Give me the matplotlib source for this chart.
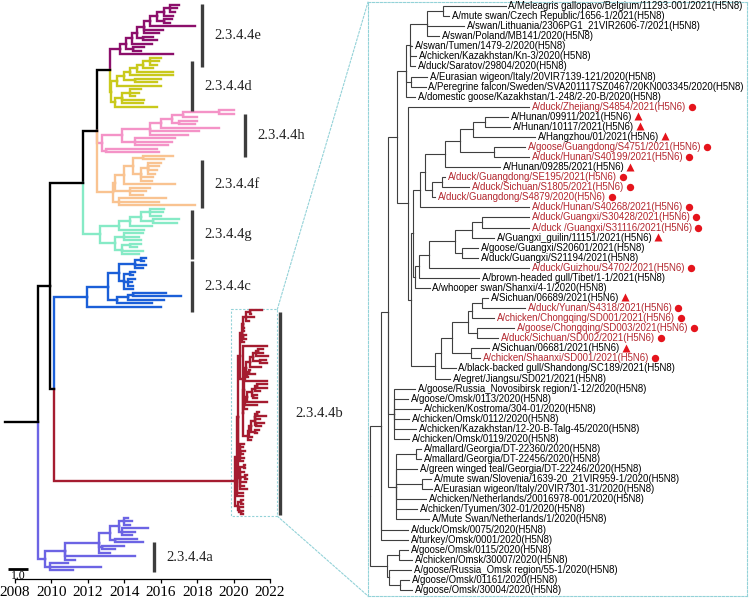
import matplotlib
matplotlib.use("Agg")
import matplotlib.pyplot as plt
from matplotlib.collections import LineCollection
from matplotlib.patches import Rectangle, ConnectionPatch

plt.rcParams["font.family"] = ["Liberation Serif", "DejaVu Serif"]

# ---------------- data ----------------
# time-scaled clades: node = (date, [children]), leaf = sampling date
clade_keys = ["e", "d", "h", "f", "g", "c", "b", "a"]
clade_labels = ["2.3.4.4e", "2.3.4.4d", "2.3.4.4h", "2.3.4.4f",
                "2.3.4.4g", "2.3.4.4c", "2.3.4.4b", "2.3.4.4a"]
clade_colors = ["#8c0f6b", "#c9c91c", "#f493c7", "#f9c391",
                "#86eac6", "#1b5fd8", "#a51c30", "#6c64e4"]

tree_e = (2013.75, [
    (2014.1, [
        (2014.4, [
            (2014.7, [
                (2015.1, [
                    (2015.4, [
                        (2015.8, [
                            (2016.2, [(2016.5, [2017.0, 2016.9, 2016.8]), 2016.7]),
                            (2016.2, [2016.6, 2016.5])]),
                        2017.9]),
                    2016.1, 2015.9]),
                (2015.0, [2015.6, 2015.8])]),
            2015.5]),
        (2014.5, [2015.1, 2014.9])]),
    2016.7])

tree_d = (2013.25, [
    (2013.6, [
        (2014.0, [
            (2014.3, [
                (2014.7, [
                    (2015.0, [(2015.4, [2016.0, 2015.9, 2015.8]), 2015.6]),
                    2016.7]),
                2016.7]),
            (2014.6, [2016.0, 2015.8])]),
        2016.0]),
    (2013.5, [
        (2013.9, [(2014.3, [2014.9, 2014.8, 2014.6]), 2015.1, 2015.0]),
        2015.8])])

tree_h = (2012.8, [
    (2013.9, [
        (2015.4, [
            (2016.0, [
                (2016.6, [
                    (2017.2, [(2019.2, [2020.0, 2020.0]), 2018.0]),
                    (2017.0, [2018.0, 2017.9])]),
                2019.2]),
            2018.1, 2017.5]),
        (2014.6, [2016.8, 2016.6, 2016.4])]),
    (2013.0, [2015.8, 2015.9])])

tree_f = (2013.4, [
    (2013.5, [
        (2014.0, [
            (2014.5, [
                (2015.0, [2016.7, 2016.2]),
                (2014.9, [(2015.3, [2016.0, 2015.9, 2015.8, 2015.7]), 2015.6, 2015.5])]),
            2016.8]),
        (2014.3, [2015.4, 2015.2, 2015.0])]),
    (2013.7, [2016.3, 2015.9, 2017.9])])

tree_g = (2012.65, [
    (2013.7, [
        (2014.3, [
            (2014.9, [(2015.4, [2016.2, 2016.1, 2016.0]), (2015.6, [2017.0, 2016.9])]),
            2015.5]),
        2015.1]),
    (2013.5, [
        (2014.0, [2015.0, 2014.8, 2014.9]),
        (2013.9, [(2014.3, [2014.9, 2014.7]), 2015.0, 2014.8])])])

tree_c = (2011.95, [
    (2013.1, [
        (2013.7, [
            (2014.6, [(2014.9, [2015.2, 2015.1]), 2015.2, 2015.0]),
            (2014.0, [(2014.3, [2014.6, 2014.5]), (2014.2, [2014.6, 2014.4, 2014.5]), 2014.5])]),
        (2013.6, [
            (2014.2, [(2014.5, [2016.3, 2017.1]), 2016.2]),
            2015.5])]),
    2016.0])

tree_a = (2009.65, [
    (2010.75, [
        (2012.6, [
            (2013.2, [
                (2013.7, [(2014.0, [2014.2, 2014.4, 2014.3]), (2013.9, [2015.3, 2014.6, 2014.4])]),
                (2013.5, [2014.7, 2015.0])]),
            (2012.8, [2014.0, 2013.5]),
            2013.2]),
        2014.6, 2011.3]),
    (2009.9, [2010.9, 2012.7, 2011.2])])

# clade 2.3.4.4b: divergence from its root, shown in both panels
tree_b = (0, [
    (11, [
        (18, [
            (27, [
                (36, [
                    (40, [(57, [(73, [136, 79]), 94, 69]), 42, 46, 45]),
                    (41, [57, 56]),
                    45]),
                (38, [
                    159,
                    (41, [
                        (43, [
                            (50, [
                                (55, [
                                    (75, [(90, [(103, [(115, [138, 140]), 165]), (124, [155, 159])]), 130]),
                                    (62, [(72, [75, 99]), 65])]),
                                159]),
                            (45, [(49, [(59, [(85, [(102, [(112, [159, 159]), 124]), (92, [108, 108])]), 159]), 109]), 60])]),
                        (65, [(71, [(82, [(98, [(102, [(112, [118, 155]), 124]), (107, [144, 128])]),
                                          (101, [119, 110])]), 86]), 80])])])]),
            (24, [45, 38, 51, 39, 46, 39]),
            (26, [(46, [51, 51]), 47, (52, [61, 62]), 56, 47, 59])]),
        38, 38]),
    (17, [(29, [38, 42]), (19, [41, (30, [39, 42])])])])

b_root_year = 2020.07
b_years_per_unit = 0.0111

# backbone: strings refer to clades
backbone = (2009.26, [
    (2009.92, [
        (2011.73, [(2012.5, [(2013.22, ["e", "d"]), "h", "f"]), "g"]),
        (2010.15, ["c", "b"])]),
    "a"])
root_stem_start = 2007.45

b_labels = [
    "A/Meleagris gallopavo/Belgium/11293-001/2021(H5N8)",
    "A/mute swan/Czech Republic/1656-1/2021(H5N8)",
    "A/swan/Lithuania/2306PG1_21VIR2606-7/2021(H5N8)",
    "A/swan/Poland/MB141/2020(H5N8)",
    "A/swan/Tumen/1479-2/2020(H5N8)",
    "A/chicken/Kazakhstan/Kn-3/2020(H5N8)",
    "A/duck/Saratov/29804/2020(H5N8)",
    "A/Eurasian wigeon/Italy/20VIR7139-121/2020(H5N8)",
    "A/Peregrine falcon/Sweden/SVA201117SZ0467/20KN003345/2020(H5N8)",
    "A/domestic goose/Kazakhstan/1-248/2-20-B/2020(H5N8)",
    "A/duck/Zhejiang/S4854/2021(H5N6)",
    "A/Hunan/09911/2021(H5N6)",
    "A/Hunan/10117/2021(H5N6)",
    "A/Hangzhou/01/2021(H5N6)",
    "A/goose/Guangdong/S4751/2021(H5N6)",
    "A/duck/Hunan/S40199/2021(H5N6)",
    "A/Hunan/09285/2021(H5N6)",
    "A/duck/Guangdong/SE195/2021(H5N6)",
    "A/duck/Sichuan/S1805/2021(H5N6)",
    "A/duck/Guangdong/S4879/2020(H5N6)",
    "A/duck/Hunan/S40268/2021(H5N6)",
    "A/duck/Guangxi/S30428/2021(H5N6)",
    "A/duck /Guangxi/S31116/2021(H5N6)",
    "A/Guangxi_guilin/11151/2021(H5N6)",
    "A/goose/Guangxi/S20601/2021(H5N8)",
    "A/duck/Guangxi/S21194/2021(H5N8)",
    "A/duck/Guizhou/S4702/2021(H5N6)",
    "A/brown-headed gull/Tibet/1-1/2021(H5N8)",
    "A/whooper swan/Shanxi/4-1/2020(H5N8)",
    "A/Sichuan/06689/2021(H5N6)",
    "A/duck/Yunan/S4318/2021(H5N6)",
    "A/chicken/Chongqing/SD001/2021(H5N6)",
    "A/goose/Chongqing/SD003/2021(H5N6)",
    "A/duck/Sichuan/SD002/2021(H5N6)",
    "A/Sichuan/06681/2021(H5N6)",
    "A/chicken/Shaanxi/SD001/2021(H5N6)",
    "A/black-backed gull/Shandong/SC189/2021(H5N8)",
    "A/egret/Jiangsu/SD021/2021(H5N8)",
    "A/goose/Russia_Novosibirsk region/1-12/2020(H5N8)",
    "A/goose/Omsk/0113/2020(H5N8)",
    "A/chicken/Kostroma/304-01/2020(H5N8)",
    "A/chicken/Omsk/0112/2020(H5N8)",
    "A/chicken/Kazakhstan/12-20-B-Talg-45/2020(H5N8)",
    "A/chicken/Omsk/0119/2020(H5N8)",
    "A/mallard/Georgia/DT-22360/2020(H5N8)",
    "A/mallard/Georgia/DT-22456/2020(H5N8)",
    "A/green winged teal/Georgia/DT-22246/2020(H5N8)",
    "A/mute swan/Slovenia/1639-20_21VIR959-1/2020(H5N8)",
    "A/Eurasian wigeon/Italy/20VIR7301-31/2020(H5N8)",
    "A/chicken/Netherlands/20016978-001/2020(H5N8)",
    "A/chicken/Tyumen/302-01/2020(H5N8)",
    "A/Mute Swan/Netherlands/1/2020(H5N8)",
    "A/duck/Omsk/0075/2020(H5N8)",
    "A/turkey/Omsk/0001/2020(H5N8)",
    "A/goose/Omsk/0115/2020(H5N8)",
    "A/chicken/Omsk/30007/2020(H5N8)",
    "A/goose/Russia_Omsk region/55-1/2020(H5N8)",
    "A/goose/Omsk/01161/2020(H5N8)",
    "A/goose/Omsk/30004/2020(H5N8)",
]
# "o" = H5N6 from poultry (this study), "^" = human H5N6, "" = other
b_marks = ([""] * 10 + ["o", "^", "^", "^", "o", "o", "^", "o", "o", "o", "o", "o", "o", "^",
                         "", "", "o", "", "", "^", "o", "o", "o", "o", "^", "o"] + [""] * 23)

clade_trees = dict(zip(clade_keys, [tree_e, tree_d, tree_h, tree_f, tree_g, tree_c, tree_b, tree_a]))


def build(node, color, to_x, leaf_ys, paths, tips):
    """lay the tree out: returns (x, y, colour) of node, collects elbow paths"""
    if isinstance(node, str):
        color = clade_colors[clade_keys.index(node)]
        if node == "b":
            to_x = lambda d: b_root_year + d * b_years_per_unit
        node = clade_trees[node]
    if isinstance(node, tuple):
        x = to_x(node[0])
        kids = [build(k, color, to_x, leaf_ys, paths, tips) for k in node[1]]
        y = (kids[0][1] + kids[-1][1]) / 2
        for kx, ky, kc in kids:
            paths.append(([(x, y), (x, ky), (kx, ky)], kc))
        return x, y, color
    x = to_x(node)
    y = next(leaf_ys)
    tips.append((x, y))
    return x, y, color


W, H = 750, 598
PX_YR = 255 / 14
fig = plt.figure(figsize=(W / 100, H / 100), dpi=100)

# ---------- left: time tree ----------
ax1 = fig.add_axes([0, (H - 579) / H, 418 / W, 579 / H])
paths, tips = [], []
rx, ry, _ = build(backbone, "black", lambda t: t, iter(range(1000)), paths, tips)
paths.append(([(root_stem_start, ry), (rx, ry)], "black"))
n_left = len(tips)
ax1.add_collection(LineCollection([p for p, c in paths], colors=[c for p, c in paths],
                                  linewidths=1.7, capstyle="projecting", joinstyle="miter"))
ax1.set_xlim(2008 - 15 / PX_YR, 2008 + (418 - 15) / PX_YR)
ax1.set_ylim(n_left + 1.5, -1.42)

# leaf index range of every clade (leaves are laid out in clade order)
sizes = []
for k in clade_keys:
    t = []
    build(k, "k", lambda v: v, iter(range(1000)), [], t)
    sizes.append(len(t))
starts = [sum(sizes[:i]) for i in range(len(sizes))]

bars = {"e": (2018.27, -0.2, 17.7), "d": (2017.72, 16, 30.2), "h": (2020.63, 31, 43.3),
        "f": (2018.27, 44.2, 57.8), "g": (2017.72, 58.4, 72.4), "c": (2017.72, 72.9, 87.5),
        "b": (2022.55, 87.5, 145.3), "a": (2015.63, 153, 161.5)}
for k, lab in zip(clade_keys, clade_labels):
    bx, y0, y1 = bars[k]
    ax1.plot([bx, bx], [y0, y1], color="#3d3d3d", lw=2.4, solid_capstyle="butt")
    ax1.annotate(lab, (bx, (y0 + y1) / 2), xytext=(11 if k == "b" else 9, 0),
                 textcoords="offset points", va="center", ha="left", fontsize=10.5, color="#222222")

# scale bar
ax1.plot([2007.62, 2008.71], [160.7, 160.7], color="black", lw=2, solid_capstyle="butt")
ax1.text(2008.16, 162.6, "1.0", ha="center", va="center", fontsize=8.5)

for s in ["top", "right", "left"]:
    ax1.spines[s].set_visible(False)
ax1.spines["bottom"].set_bounds(2008, 2022)
ax1.spines["bottom"].set_linewidth(0.9)
ax1.set_xticks(range(2008, 2023, 2))
ax1.set_yticks([])
ax1.tick_params(axis="x", length=3, width=0.9, labelsize=11, pad=2)

# zoom box around clade b
bi = clade_keys.index("b")
b_first, b_last = starts[bi], starts[bi] + sizes[bi] - 1
b_max = max(x for x, y in tips[b_first:b_last + 1])
box_l, box_r = b_root_year - 0.22, b_max + 0.5
box_t, box_b = b_first - 0.3, b_last + 0.6
zoom_col = "#93d2d8"
ax1.add_patch(Rectangle((box_l, box_t), box_r - box_l, box_b - box_t, fill=False,
                        ec=zoom_col, lw=0.8, ls=(0, (2, 1.5))))

# ---------- right: clade b detail ----------
ax2 = fig.add_axes([368 / W, 2 / H, 379 / W, 594 / H])
paths2, tips2 = [], []
build(tree_b, "#3f3f3f", lambda d: d, iter(range(len(b_labels))), paths2, tips2)
ax2.add_collection(LineCollection([p for p, c in paths2], colors=[c for p, c in paths2],
                                  linewidths=0.8, capstyle="projecting", joinstyle="miter"))
ax2.set_xlim(-1.5, 377.5)
ax2.set_ylim(len(b_labels) - 0.4, -0.4)
ax2.set_xticks([])
ax2.set_yticks([])
for s in ax2.spines.values():
    s.set_edgecolor(zoom_col)
    s.set_linewidth(0.8)
    s.set_linestyle((0, (2, 1.5)))

texts = []
for (x, y), lab, m in zip(tips2, b_labels, b_marks):
    col = "#b3262e" if m == "o" else "black"
    texts.append(ax2.text(x + 3, y, lab, fontsize=6.9, family=["Liberation Sans", "DejaVu Sans"],
                          va="center", ha="left", color=col))

fig.canvas.draw()
renderer = fig.canvas.get_renderer()
inv = ax2.transData.inverted()
for t, (x, y), m in zip(texts, tips2, b_marks):
    if not m:
        continue
    x_end = inv.transform((t.get_window_extent(renderer).x1, 0))[0]
    if m == "o":
        ax2.plot(x_end + 6, y, "o", ms=5.3, color="#e5141c", mec="none", clip_on=False)
    else:
        ax2.plot(x_end + 6, y - 0.05, "^", ms=5.6, color="#e5141c", mec="none", clip_on=False)

for xyA, xyB in [((box_r, box_t), (0, 1)), ((box_r, box_b), (0, 0))]:
    fig.add_artist(ConnectionPatch(xyA=xyA, coordsA=ax1.transData, xyB=xyB, coordsB=ax2.transAxes,
                                   color=zoom_col, lw=0.8, ls=(0, (2, 1.5))))

fig.savefig("out.png", dpi=100)
